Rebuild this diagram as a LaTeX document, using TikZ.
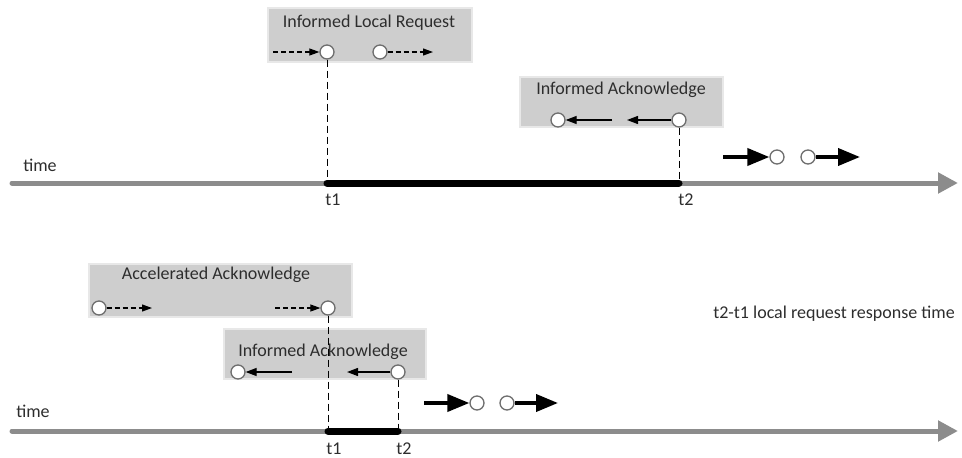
\documentclass[tikz,border=0pt]{standalone}
\usepackage{fontspec}
\setmainfont{Carlito}
\usetikzlibrary{arrows.meta}
\definecolor{boxgray}{RGB}{206,206,206}
\definecolor{boxedge}{RGB}{232,232,232}
\definecolor{ringgray}{RGB}{110,110,110}
\definecolor{linegray}{RGB}{140,140,140}
\definecolor{txtgray}{RGB}{45,45,45}
\tikzset{
  box/.style={fill=boxgray, draw=boxedge, line width=2pt, inner sep=0pt},
  lbl/.style={font=\fontsize{18}{21}\selectfont, text=txtgray, inner sep=0pt},
  ball/.style={circle, draw=ringgray, fill=white, line width=1.3pt, minimum size=14pt, inner sep=0pt},
  dasharrow/.style={dashed, dash pattern=on 5pt off 3pt, line width=1.1pt, -{Triangle[length=10pt,width=7pt]}},
  solidarrow/.style={line width=1.3pt, -{Triangle[length=11pt,width=8pt]}},
  fatarrow/.style={line width=3.8pt, -{Triangle[length=22pt,width=17pt]}},
  timeline/.style={line width=5pt, draw=linegray, line cap=round, -{Triangle[length=20pt,width=20pt]}},
  dropline/.style={dashed, dash pattern=on 7pt off 4pt, line width=0.9pt},
  span/.style={line width=7pt, line cap=round}
}
\begin{document}
\begin{tikzpicture}[x=1pt,y=-1pt]
\useasboundingbox (0,0) rectangle (962,458);

% ---- upper scenario ----
\node[box, minimum width=204pt, minimum height=54pt] (boxILR) at (370,35) {};
\node[lbl] (txtILR) at (369,23) {Informed Local Request};
\node[box, minimum width=203pt, minimum height=50pt] (boxIA) at (621,102) {};
\node[lbl] (txtIA) at (621,90) {Informed Acknowledge};

% timeline
\coordinate (tlAstart) at (12,183);
\coordinate (tlAend) at (958,183);
\draw[timeline] (tlAstart) -- (tlAend);
\node[lbl] (timeA) at (40,165) {time};

% request circles and arrows
\node[ball] (r1) at (327,52) {};
\node[ball] (r2) at (380,52) {};
\coordinate (r1in) at (273,52);
\coordinate (r2out) at (433,52);
\draw[dasharrow] (r1in) -- (r1);
\draw[dasharrow] (r2) -- (r2out);

% acknowledge circles and arrows
\node[ball] (k1) at (558,120) {};
\node[ball] (k2) at (679,120) {};
\coordinate (k1in) at (612,120);
\coordinate (k2out) at (627,120);
\draw[solidarrow] (k1in) -- (k1);
\draw[solidarrow] (k2) -- (k2out);

% instants t1 and t2
\coordinate (tA1) at (327,183);
\coordinate (tA2) at (679,183);
\draw[dropline] (r1) -- (tA1);
\draw[dropline] (k2) -- (tA2);
\draw[span] (tA1) -- (tA2);
\node[lbl] (lblA1) at (333,200) {t1};
\node[lbl] (lblA2) at (686,200) {t2};

% forwarding arrows
\node[ball] (fA1) at (777,157) {};
\node[ball] (fA2) at (808,157) {};
\coordinate (fA1in) at (723,157);
\coordinate (fA2out) at (860,157);
\draw[fatarrow] (fA1in) -- (fA1);
\draw[fatarrow] (fA2) -- (fA2out);

% ---- lower scenario ----
\node[box, minimum width=263pt, minimum height=53pt] (boxAA) at (220,290) {};
\node[lbl] (txtAA) at (216,275) {Accelerated Acknowledge};
\node[box, minimum width=202pt, minimum height=50pt] (boxIB) at (325,354) {};
\node[lbl] (txtIB) at (323,352) {Informed Acknowledge};

\coordinate (tlBstart) at (12,431);
\coordinate (tlBend) at (958,431);
\draw[timeline] (tlBstart) -- (tlBend);
\node[lbl] (timeB) at (33,411) {time};

\node[ball] (a1) at (99,308) {};
\node[ball] (a2) at (328,308) {};
\coordinate (a1out) at (152,308);
\coordinate (a2in) at (275,308);
\draw[dasharrow] (a1) -- (a1out);
\draw[dasharrow] (a2in) -- (a2);

\node[ball] (b1) at (238,372) {};
\node[ball] (b2) at (398,372) {};
\coordinate (b1in) at (292,372);
\coordinate (b2out) at (347,372);
\draw[solidarrow] (b1in) -- (b1);
\draw[solidarrow] (b2) -- (b2out);

\coordinate (tB1) at (328,431);
\coordinate (tB2) at (398,431);
\draw[dropline] (a2) -- (tB1);
\draw[dropline] (b2) -- (tB2);
\draw[span] (tB1) -- (tB2);
\node[lbl] (lblB1) at (334,449) {t1};
\node[lbl] (lblB2) at (404,449) {t2};

\node[ball] (fB1) at (477,403) {};
\node[ball] (fB2) at (507,403) {};
\coordinate (fB1in) at (424,403);
\coordinate (fB2out) at (558,403);
\draw[fatarrow] (fB1in) -- (fB1);
\draw[fatarrow] (fB2) -- (fB2out);

\node[lbl] (note) at (834,314) {t2-t1 local request response time};
\end{tikzpicture}
\end{document}
